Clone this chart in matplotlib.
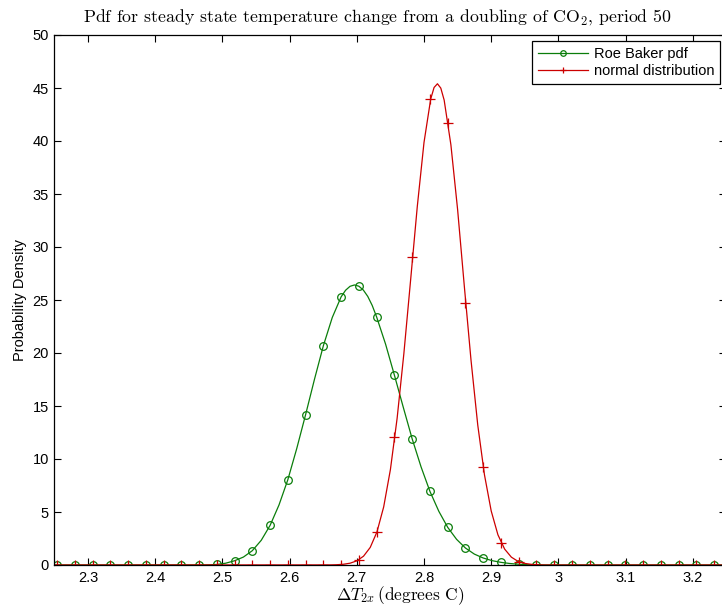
import matplotlib
matplotlib.use("Agg")
import matplotlib.pyplot as plt

plt.rcParams['mathtext.fontset'] = 'cm'

# marker positions
marker_x = [2.2538, 2.2802, 2.3067, 2.3331, 2.3595, 2.3860, 2.4124, 2.4388, 2.4652,
            2.4917, 2.5181, 2.5445, 2.5710, 2.5974, 2.6238, 2.6503, 2.6767, 2.7031,
            2.7295, 2.7560, 2.7824, 2.8088, 2.8353, 2.8617, 2.8881, 2.9146, 2.9410,
            2.9674, 2.9938, 3.0203, 3.0467, 3.0731, 3.0996, 3.1260, 3.1524, 3.1789,
            3.2053, 3.2317]
roe_marker_y = [0, 0, 0, 0, 0, 0, 0, 0, 0,
                0.05, 0.4, 1.35, 3.74, 8.05, 14.18, 20.7, 25.3, 26.3,
                23.4, 17.9, 11.9, 6.95, 3.55, 1.6, 0.66, 0.25, 0.07,
                0.01, 0, 0, 0, 0, 0, 0, 0, 0, 0, 0]
norm_marker_y = [0, 0, 0, 0, 0, 0, 0, 0, 0,
                 0, 0, 0, 0, 0, 0, 0, 0, 0.5,
                 3.1, 12.05, 29.1, 44.0, 41.7, 24.7, 9.2, 2.1, 0.28,
                 0.02, 0, 0, 0, 0, 0, 0, 0, 0, 0, 0]

# denser readings along the curves
roe_curve_x = [2.25, 2.4652, 2.4785, 2.4917, 2.5049, 2.5181, 2.5313, 2.5445, 2.5578,
               2.5710, 2.5842, 2.5974, 2.6106, 2.6238, 2.6371, 2.6503, 2.6635, 2.6767,
               2.6833, 2.6899, 2.6965, 2.7031, 2.7097, 2.7163, 2.7229, 2.7295, 2.7428,
               2.7560, 2.7692, 2.7824, 2.7956, 2.8088, 2.8221, 2.8353, 2.8485, 2.8617,
               2.8749, 2.8881, 2.9013, 2.9146, 2.9278, 2.9410, 2.9542, 2.9674, 2.9806,
               2.9938, 3.25]
roe_curve_y = [0, 0, 0.01, 0.05, 0.17, 0.4, 0.75, 1.35, 2.33,
               3.74, 5.66, 8.05, 10.98, 14.18, 17.54, 20.7, 23.35, 25.3,
               25.92, 26.29, 26.42, 26.3, 25.94, 25.34, 24.49, 23.4, 20.84,
               17.9, 14.87, 11.9, 9.26, 6.95, 5.06, 3.55, 2.42, 1.6,
               1.03, 0.66, 0.41, 0.25, 0.14, 0.07, 0.03, 0.01, 0.003,
               0, 0]
norm_curve_x = [2.25, 2.66, 2.67, 2.68, 2.69, 2.70, 2.71, 2.72, 2.73, 2.74, 2.75, 2.76,
                2.77, 2.78, 2.79, 2.80, 2.81, 2.815, 2.82, 2.825, 2.83, 2.84, 2.85,
                2.86, 2.87, 2.88, 2.89, 2.90, 2.91, 2.92, 2.93, 2.94, 2.95, 2.96,
                2.97, 2.98, 3.25]
norm_curve_y = [0, 0.01, 0.025, 0.07, 0.17, 0.39, 0.83, 1.66, 3.12, 5.48, 9.0, 13.84,
                19.92, 26.83, 33.81, 39.86, 43.97, 45.05, 45.4, 44.99, 43.86, 39.65, 33.54,
                26.3, 19.3, 13.2, 8.5, 5.1, 2.85, 1.5, 0.74, 0.34, 0.15, 0.06,
                0.02, 0.0, 0]

xticks = [2.3, 2.4, 2.5, 2.6, 2.7, 2.8, 2.9, 3.0, 3.1, 3.2]
xticklabels = ['2.3', '2.4', '2.5', '2.6', '2.7', '2.8', '2.9', '3', '3.1', '3.2']
yticks = [0, 5, 10, 15, 20, 25, 30, 35, 40, 45, 50]

green = '#0a7d0a'
red = '#cc0000'

fig = plt.figure(figsize=(7.22, 6.07), dpi=100)
ax = fig.add_axes([54.4 / 722, 42 / 607, 672 / 722, 530 / 607])

ax.plot(roe_curve_x, roe_curve_y, color=green, lw=0.9)
ax.plot(marker_x, roe_marker_y, ls='none', marker='o', mfc='none', mec=green,
        ms=5.5, mew=0.9)
ax.plot(norm_curve_x, norm_curve_y, color=red, lw=0.9)
ax.plot(marker_x, norm_marker_y, ls='none', marker='+', color=red, ms=6.5, mew=0.9)

# legend proxies
h1, = ax.plot([], [], color=green, lw=0.9, marker='o', mfc='none', ms=4, mew=0.9,
              label='Roe Baker pdf')
h2, = ax.plot([], [], color=red, lw=0.9, marker='+', ms=5, mew=0.9,
              label='normal distribution')

ax.set_xlim(2.25, 3.25)
ax.set_ylim(0, 50)
ax.set_xticks(xticks)
ax.set_xticklabels(xticklabels)
ax.set_yticks(yticks)
ax.tick_params(direction='in', length=5, width=0.8, top=True, right=True,
               labelsize=10.5, pad=4)
for lab in ax.get_xticklabels() + ax.get_yticklabels():
    lab.set_fontfamily('Liberation Sans')
for s in ax.spines.values():
    s.set_linewidth(0.9)

ax.set_ylabel('Probability Density', fontsize=10.5, family='Liberation Sans', labelpad=4)
fig.text(400 / 722, 1 - 600 / 607, r'$\Delta T_{2x}\,$(degrees C)',
         ha='center', va='baseline', fontsize=12.5, family='cmr10')
fig.text(377 / 722, 1 - 17 / 607,
         r'Pdf for steady state temperature change from a doubling of CO$_2$, period 50',
         ha='center', va='center', fontsize=12.8, family='cmr10')

leg = ax.legend(handles=[h1, h2], loc='upper right',
                bbox_to_anchor=(720 / 722, 1 - 41 / 607),
                bbox_transform=fig.transFigure, fancybox=False, framealpha=1,
                edgecolor='black', prop={'family': 'Liberation Sans', 'size': 10.5},
                handlelength=3.4, borderpad=0.4, labelspacing=0.2, handletextpad=0.4,
                borderaxespad=0)
leg.get_frame().set_linewidth(0.9)

fig.savefig('out.png', dpi=100)
